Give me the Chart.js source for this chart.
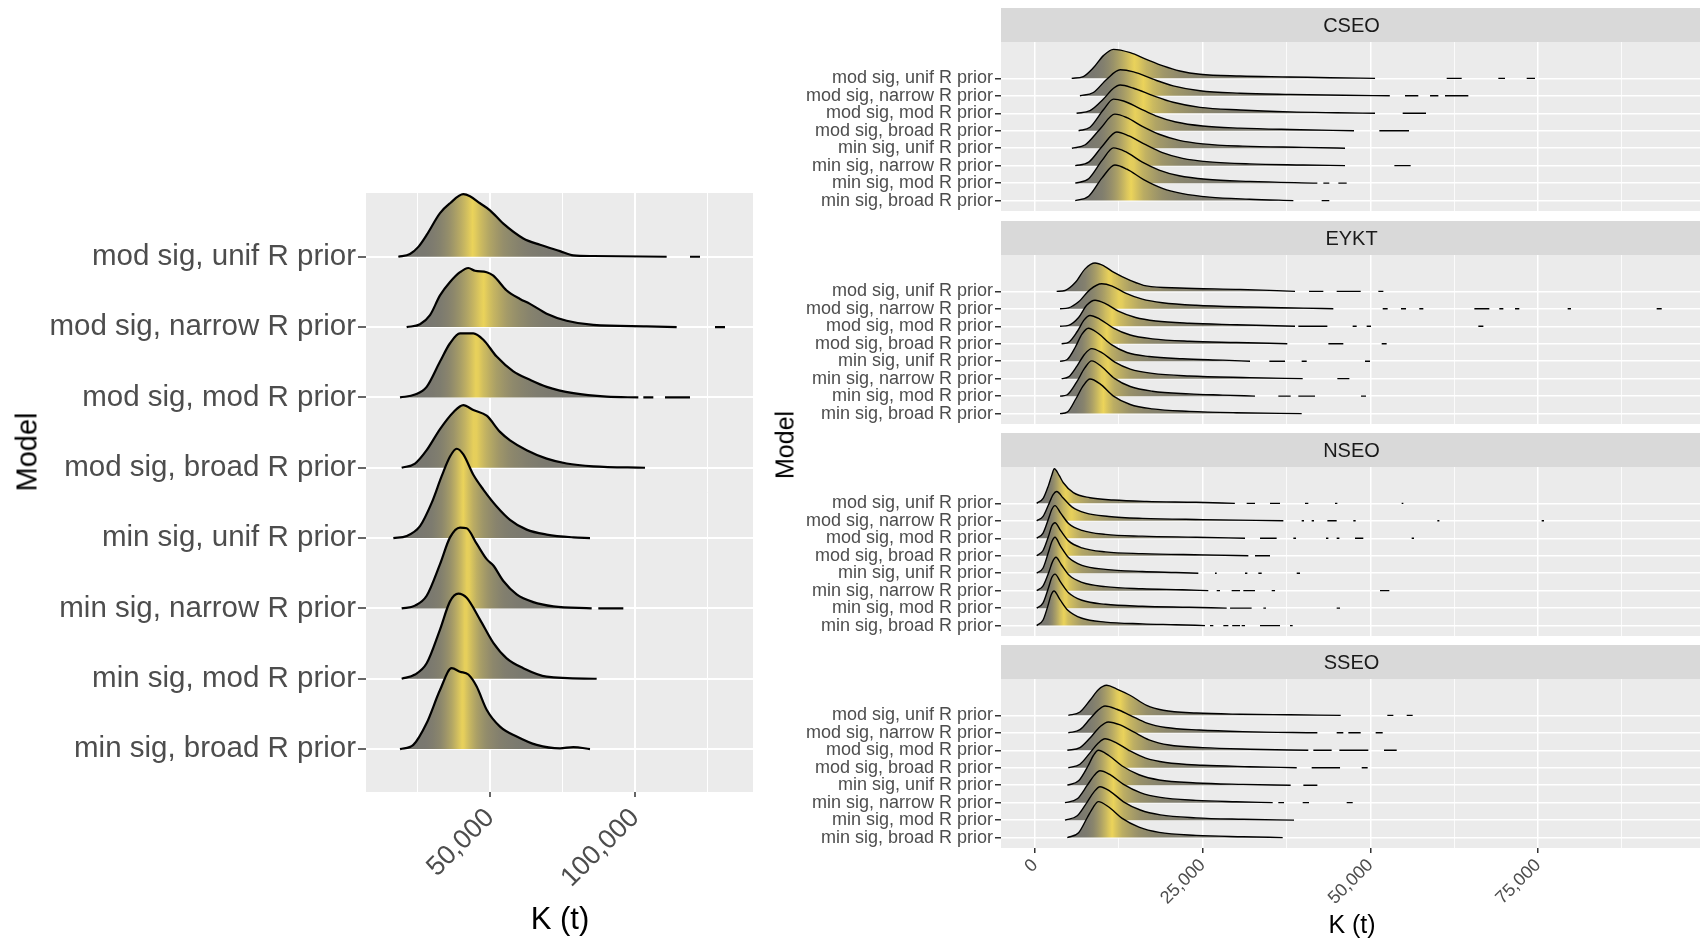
<!DOCTYPE html>
<html>
<head>
<meta charset="utf-8">
<script src="https://cdn.jsdelivr.net/npm/chart.js@4.4.0/dist/chart.umd.min.js"></script>
<style>
  html, body { margin: 0; padding: 0; background: #fff; }
  body { width: 1700px; height: 938px; position: relative; overflow: hidden; font-family: "Liberation Sans", Arial, sans-serif; }
  canvas { position: absolute; }
  .ttl { position: absolute; color: #000; white-space: nowrap; line-height: 1; transform: translate(-50%, -50%); }
  .ttl.rot { transform: translate(-50%, -50%) rotate(-90deg); }
</style>
</head>
<body>
<canvas id="allChart" width="760" height="938" style="left:0;top:0"></canvas>
<canvas id="cseoChart" width="1000" height="203" style="left:700px;top:8px"></canvas>
<canvas id="eyktChart" width="1000" height="203" style="left:700px;top:221px"></canvas>
<canvas id="nseoChart" width="1000" height="203" style="left:700px;top:433px"></canvas>
<canvas id="sseoChart" width="1000" height="293" style="left:700px;top:645px"></canvas>
<div class="ttl rot" style="left:27px;top:452px;font-size:29px">Model</div>
<div class="ttl" style="left:560px;top:918px;font-size:31px">K (t)</div>
<div class="ttl rot" style="left:785px;top:445px;font-size:25px">Model</div>
<div class="ttl" style="left:1352px;top:924px;font-size:25px">K (t)</div>
<script>
// rows, top to bottom
const models = ['mod sig, unif R prior', 'mod sig, narrow R prior', 'mod sig, mod R prior', 'mod sig, broad R prior',
  'min sig, unif R prior', 'min sig, narrow R prior', 'min sig, mod R prior', 'min sig, broad R prior'];

// density curves as [K, height in row units], plus detached tail pieces [from, to]
const allK = [
  [[18390,0],[22410,0.04],[25290,0.14],[28160,0.31],[32760,0.62],[36210,0.76],[40800,0.89],[43100,0.86],[46550,0.76],[50000,0.66],[54600,0.47],[61490,0.26],[67240,0.17],[74140,0.08],[78730,0.02],[85630,0.01],[110920,0]],
  [[21260,0],[25860,0.04],[29310,0.17],[32760,0.45],[36210,0.64],[39650,0.78],[42530,0.84],[44830,0.80],[48850,0.78],[51150,0.73],[55750,0.52],[60340,0.40],[63790,0.33],[69540,0.19],[76430,0.09],[85630,0.03],[104020,0.01],[114370,0]],
  [[18970,0],[24140,0.04],[28160,0.15],[32760,0.51],[36210,0.77],[39650,0.91],[44250,0.91],[47700,0.82],[52300,0.58],[58040,0.37],[63790,0.25],[69540,0.15],[78730,0.06],[90230,0.01],[101150,0]],
  [[19540,0],[24140,0.06],[28160,0.25],[32760,0.55],[37360,0.79],[40800,0.89],[44250,0.82],[48850,0.74],[53450,0.51],[56900,0.39],[62640,0.25],[69540,0.13],[76430,0.06],[85630,0.02],[103450,0]],
  [[16670,0],[21260,0.03],[25860,0.17],[29880,0.50],[33330,0.88],[36210,1.16],[38510,1.27],[40800,1.19],[44250,0.90],[47700,0.69],[52300,0.45],[56900,0.26],[62640,0.12],[69540,0.05],[78730,0.01],[84480,0]],
  [[19540,0],[24140,0.04],[28160,0.18],[32760,0.63],[36210,1.01],[39650,1.15],[41950,1.14],[45400,0.92],[48850,0.70],[51150,0.61],[54600,0.39],[59190,0.20],[64940,0.09],[71840,0.03],[85060,0]],
  [[19540,0],[24140,0.06],[28160,0.22],[32760,0.70],[36210,1.10],[39080,1.21],[41950,1.15],[46550,0.84],[51150,0.51],[55750,0.29],[61490,0.15],[69540,0.03],[86780,0]],
  [[18970,0],[23560,0.06],[28160,0.37],[32760,0.84],[36780,1.15],[39650,1.10],[42530,1.06],[45400,0.89],[48850,0.56],[53450,0.32],[59190,0.18],[66090,0.06],[74140,0.01],[78730,0.03],[84480,0]]
];
const allTails = [[[118960,122410]], [[127590,131030]], [[102870,106320],[110340,118960]], [], [], [[87350,95980]], [], []];

const cseoK = [
  [[5470,0],[7200,0.1],[8700,0.6],[10200,1.3],[11700,1.66],[14200,1.47],[16600,1.09],[19100,0.71],[21600,0.42],[24600,0.23],[30600,0.13],[38000,0.08],[44000,0.03],[50700,0]],
  [[6700,0],[8700,0.19],[10700,0.95],[12700,1.49],[14700,1.37],[17600,0.95],[20600,0.57],[24600,0.29],[30600,0.15],[38000,0.08],[46000,0.03],[52900,0]],
  [[6200,0],[8200,0.15],[10200,0.82],[11700,1.43],[12700,1.62],[14700,1.43],[17600,1.01],[20600,0.63],[24600,0.34],[30600,0.19],[38000,0.08],[45000,0.03],[50700,0]],
  [[6500,0],[8200,0.2],[10200,1.2],[11700,1.81],[13200,1.7],[15500,1.3],[18000,0.85],[21000,0.5],[25000,0.27],[30600,0.15],[38000,0.07],[47560,0]],
  [[5500,0],[7500,0.2],[9700,1.1],[11900,1.95],[13700,1.75],[16000,1.25],[18500,0.8],[21500,0.45],[25000,0.25],[31000,0.12],[40000,0.05],[46220,0]],
  [[6000,0],[8000,0.2],[10000,1.1],[12200,1.93],[14000,1.7],[16500,1.2],[19000,0.75],[22000,0.42],[26000,0.22],[32000,0.1],[40000,0.04],[46220,0]],
  [[6000,0],[8000,0.25],[10000,1.3],[11700,2.02],[13500,1.8],[16000,1.2],[18500,0.75],[21500,0.42],[25500,0.22],[32000,0.1],[42100,0]],
  [[6000,0],[8000,0.25],[10000,1.3],[11900,2.04],[13700,1.8],[16200,1.2],[19000,0.7],[22000,0.4],[26000,0.2],[32000,0.08],[38520,0]]
];
const cseoTails = [
  [[61380,63620],[69080,70080],[73310,74550]],
  [[55170,57150],[58900,60140],[61130,64610]],
  [[54820,58300]],
  [[51340,55760]],
  [],
  [[53580,56010]],
  [[42990,43880],[45230,46470]],
  [[42740,43880]]
];

const eyktK = [
  [[3230,0],[4500,0.05],[6000,0.5],[7500,1.3],[8950,1.62],[10300,1.45],[11700,1.1],[14200,0.63],[16600,0.31],[21600,0.19],[30600,0.11],[38770,0]],
  [[3730,0],[5000,0.05],[6500,0.4],[8200,1.1],[9940,1.43],[11500,1.3],[13500,0.9],[16000,0.55],[19000,0.35],[24000,0.2],[32000,0.1],[40000,0.04],[44480,0]],
  [[3730,0],[5000,0.05],[6500,0.5],[7700,1.2],[8950,1.49],[10500,1.3],[12500,0.85],[15000,0.5],[18000,0.3],[23000,0.17],[30000,0.09],[38770,0]],
  [[3970,0],[5000,0.08],[6300,0.7],[7300,1.35],[8200,1.62],[9700,1.4],[11700,0.9],[14200,0.5],[17500,0.28],[23000,0.14],[30000,0.07],[37620,0]],
  [[3730,0],[4800,0.1],[6000,0.8],[7000,1.55],[7950,1.89],[9400,1.6],[11400,0.95],[13700,0.5],[17000,0.27],[22000,0.14],[28000,0.06],[32060,0]],
  [[3970,0],[5000,0.1],[6300,0.75],[7400,1.4],[8450,1.72],[9900,1.5],[11900,0.95],[14200,0.55],[17500,0.3],[23000,0.15],[32000,0.06],[39910,0]],
  [[3730,0],[4800,0.08],[6200,0.8],[7400,1.6],[8450,2.02],[9900,1.7],[11900,1.0],[14200,0.55],[17500,0.28],[23000,0.13],[28000,0.06],[32800,0]],
  [[3730,0],[4800,0.08],[6100,0.85],[7200,1.6],[8200,1.98],[9700,1.7],[11700,1.0],[14200,0.52],[17500,0.27],[23000,0.13],[30000,0.05],[39760,0]]
];
const eyktTails = [
  [[40850,42990],[44980,48560],[51190,51940]],
  [[51840,52580],[54570,55320],[57300,57900],[65510,67740],[69230,69830],[71570,72210],[79420,79920],[92690,93440]],
  [[39260,43590],[47360,47960],[49450,50100],[66100,66850]],
  [[43740,45970],[51690,52430]],
  [[34940,37280],[39760,40510],[49200,49950]],
  [[45080,46870]],
  [[36280,38120],[39260,41750],[48610,49350]],
  []
];

const nseoK = [
  [[250,0],[1240,0.3],[1990,1.0],[2490,1.6],[2880,1.98],[3600,1.6],[4220,1.18],[5720,0.61],[8200,0.32],[11680,0.19],[16650,0.11],[24000,0.06],[29800,0]],
  [[250,0],[1200,0.25],[2000,0.9],[2700,1.5],[3230,1.68],[4200,1.3],[5500,0.8],[7500,0.45],[11000,0.25],[16000,0.14],[25000,0.07],[37030,0]],
  [[250,0],[1200,0.3],[2000,1.1],[2500,1.65],[2980,1.87],[3800,1.45],[5000,0.85],[7000,0.45],[10500,0.22],[16000,0.12],[24000,0.06],[31310,0]],
  [[250,0],[1200,0.3],[2000,1.1],[2500,1.7],[2980,1.89],[3800,1.45],[5000,0.85],[7000,0.45],[10500,0.22],[16000,0.12],[25000,0.05],[31810,0]],
  [[250,0],[1200,0.3],[2000,1.2],[2500,1.8],[2980,2.06],[3800,1.55],[5000,0.9],[7000,0.45],[10500,0.22],[16000,0.1],[21000,0.04],[24350,0]],
  [[250,0],[1200,0.28],[2100,1.1],[2600,1.65],[3130,1.91],[3900,1.5],[5100,0.88],[7000,0.47],[10500,0.23],[16000,0.11],[22000,0.05],[25840,0]],
  [[250,0],[1200,0.3],[2000,1.15],[2500,1.75],[2980,1.95],[3800,1.5],[5000,0.88],[7000,0.45],[10500,0.22],[16000,0.11],[23000,0.05],[28580,0]],
  [[250,0],[1200,0.32],[1900,1.1],[2400,1.75],[2830,1.98],[3700,1.5],[4900,0.88],[7000,0.42],[10500,0.2],[16000,0.1],[21000,0.05],[25350,0]]
];
const nseoTails = [
  [[31560,32800],[35040,36530],[40260,40750],[44730,45080],[54670,54920]],
  [[39760,40110],[41250,41600],[43590,44980],[47460,47810],[59990,60290],[75540,75890]],
  [[33550,36030],[38520,38920],[43390,43740],[44980,45380],[47710,48950],[56160,56510]],
  [[32800,35040]],
  [[26840,27090],[31310,31660],[33300,33800],[39020,39510]],
  [[27090,27580],[29320,30570],[31060,32800],[35290,35790],[51440,52830]],
  [[29080,32300],[34050,34440],[44980,45480]],
  [[26090,26590],[28080,28830],[29400,30570],[30810,31310],[33550,36530],[38020,38420]]
];

const sseoK = [
  [[4970,0],[6700,0.19],[8200,0.86],[9440,1.47],[10690,1.72],[12200,1.5],[14160,1.15],[16650,0.57],[19130,0.29],[24100,0.13],[30570,0.06],[38000,0.03],[45580,0]],
  [[4970,0],[6700,0.18],[8200,0.8],[9400,1.3],[10440,1.53],[12200,1.35],[14200,1.0],[16700,0.55],[19500,0.3],[24500,0.16],[31000,0.07],[42100,0]],
  [[4820,0],[6700,0.15],[8200,0.7],[9700,1.35],[10930,1.62],[12700,1.45],[14700,1.05],[17000,0.6],[20000,0.3],[25000,0.15],[32000,0.06],[40750,0]],
  [[4970,0],[6700,0.2],[8200,0.85],[9400,1.4],[10440,1.66],[12000,1.45],[14000,1.0],[16500,0.55],[19500,0.3],[25000,0.14],[32000,0.06],[39020,0]],
  [[4820,0],[6500,0.25],[7900,1.1],[8700,1.7],[9440,2.0],[11000,1.7],[13000,1.1],[15500,0.6],[18500,0.3],[24000,0.13],[31000,0.05],[38120,0]],
  [[4470,0],[6300,0.22],[7800,1.0],[8800,1.55],[9690,1.83],[11200,1.6],[13200,1.05],[15700,0.58],[18700,0.3],[24000,0.13],[30000,0.05],[35440,0]],
  [[4470,0],[6300,0.25],[7800,1.05],[8800,1.62],[9690,1.91],[11200,1.65],[13200,1.05],[15700,0.58],[18700,0.3],[24000,0.13],[31000,0.05],[38620,0]],
  [[4820,0],[6500,0.28],[7800,1.15],[8700,1.75],[9440,2.06],[11000,1.75],[13000,1.1],[15500,0.6],[18500,0.3],[24000,0.13],[31000,0.05],[36930,0]]
];
const sseoTails = [
  [[52530,53430],[55420,56310]],
  [[44980,45970],[46720,48560],[50790,51840]],
  [[41500,44230],[45380,49700],[52040,53930]],
  [[41250,45480],[48710,49600]],
  [[40010,42100]],
  [[36280,37130],[39910,40850],[46470,47370]],
  [],
  []
];

const allTicks = [25000, 50000, 75000, 100000, 125000];
const allLabeled = [50000, 100000];
const facetTicks = [0, 12500, 25000, 37500, 50000, 62500, 75000, 87500];
const facetLabeled = [0, 25000, 50000, 75000];

Chart.defaults.font.family = '"Liberation Sans", Arial, sans-serif';

const GRAY = [120, 119, 112], YELLOW = [236, 212, 90];
function shade(q) {
  let t = 1 - Math.abs(2 * q - 1);
  t = Math.pow(t, 1.6);
  const c = GRAY.map((g, i) => Math.round(g + t * (YELLOW[i] - g)));
  return `rgb(${c[0]},${c[1]},${c[2]})`;
}

// cumulative share of the area under a curve, point by point
function cumShare(pts) {
  const c = [0];
  for (let i = 1; i < pts.length; i++) {
    c.push(c[i - 1] + (pts[i][0] - pts[i - 1][0]) * (pts[i][1] + pts[i - 1][1]) / 2);
  }
  const tot = c[c.length - 1];
  return c.map(v => v / tot);
}

function ridgeFill(pts) {
  const F = cumShare(pts);
  return function (ctx) {
    const chart = ctx.chart;
    const xs = chart.scales.x;
    if (!chart.chartArea || !xs) return 'rgba(0,0,0,0)';
    const x0 = xs.getPixelForValue(pts[0][0]);
    const x1 = xs.getPixelForValue(pts[pts.length - 1][0]);
    const g = chart.ctx.createLinearGradient(x0, 0, x1, 0);
    for (let i = 0; i < pts.length - 1; i++) {
      for (let k = 0; k < 4; k++) {
        const f = k / 4;
        const v = pts[i][0] + f * (pts[i + 1][0] - pts[i][0]);
        const q = F[i] + f * (F[i + 1] - F[i]);
        g.addColorStop(Math.min(1, Math.max(0, (xs.getPixelForValue(v) - x0) / (x1 - x0))), shade(q));
      }
    }
    g.addColorStop(1, shade(1));
    return g;
  };
}

const panelPlugin = {
  id: 'panel',
  beforeDraw(chart, args, opts) {
    const { ctx, chartArea: a } = chart;
    ctx.save();
    ctx.fillStyle = '#ebebeb';
    ctx.fillRect(a.left, a.top, a.right - a.left, a.bottom - a.top);
    if (opts.strip) {
      ctx.fillStyle = '#d9d9d9';
      ctx.fillRect(a.left, a.top - opts.stripH, a.right - a.left, opts.stripH);
      ctx.fillStyle = '#1a1a1a';
      ctx.font = '20px "Liberation Sans", Arial, sans-serif';
      ctx.textAlign = 'center';
      ctx.textBaseline = 'middle';
      ctx.fillText(opts.strip, (a.left + a.right) / 2 + 1, a.top - opts.stripH / 2 + 1);
    }
    ctx.restore();
  }
};

function ridgeChart(id, curves, tails, c) {
  const datasets = [];
  // bottom row first, so it is drawn on top of the rows above it
  for (let r = curves.length - 1; r >= 0; r--) {
    const base = curves.length - r;
    const pts = curves[r];
    const data = pts.map(p => ({ x: p[0], y: base + p[1] }));
    let last = pts[pts.length - 1][0];
    tails[r].forEach(t => {
      data.push({ x: (last + t[0]) / 2, y: null });
      data.push({ x: t[0], y: base }, { x: t[1], y: base });
      last = t[1];
    });
    datasets.push({
      label: models[r],
      data,
      fill: { value: base },
      backgroundColor: ridgeFill(pts),
      borderColor: '#000',
      borderWidth: c.lw,
      spanGaps: false,
      cubicInterpolationMode: 'monotone',
      pointRadius: 0
    });
  }
  const isMajor = v => c.labeled.includes(v);
  return new Chart(document.getElementById(id), {
    type: 'line',
    data: { datasets },
    options: {
      responsive: false,
      animation: false,
      events: [],
      layout: { padding: { top: c.padTop, right: c.padRight, left: 0, bottom: 0 } },
      scales: {
        x: {
          type: 'linear', min: c.xMin, max: c.xMax,
          afterBuildTicks: s => { s.ticks = c.ticks.map(v => ({ value: v })); },
          afterFit: s => { s.height = c.xHeight; s.paddingLeft = 0; s.paddingRight = 0; },
          ticks: {
            display: c.showX, autoSkip: false, minRotation: 45, maxRotation: 45,
            padding: c.xPad, color: '#4d4d4d', font: { size: c.xFont, lineHeight: 1 },
            callback: v => isMajor(v) ? v.toLocaleString('en-US') : ''
          },
          grid: {
            color: '#ffffff',
            lineWidth: ctx => isMajor(ctx.tick.value) ? c.gridMajor : c.gridMinor,
            drawTicks: c.showX, tickLength: 5, tickWidth: 1.5,
            tickColor: ctx => isMajor(ctx.tick.value) ? '#333333' : 'rgba(0,0,0,0)'
          },
          border: { display: false }
        },
        y: {
          type: 'linear', min: c.yMin, max: c.yMax,
          afterBuildTicks: s => { s.ticks = [1, 2, 3, 4, 5, 6, 7, 8].map(v => ({ value: v })); },
          afterFit: s => { s.width = c.yWidth; s.paddingTop = 0; s.paddingBottom = 0; },
          ticks: {
            autoSkip: false, padding: 2, color: '#4d4d4d', font: { size: c.yFont, lineHeight: 1 },
            callback: v => models[8 - v]
          },
          grid: { color: '#ffffff', lineWidth: c.gridMajor, tickLength: c.yTick, tickWidth: 1.5, tickColor: '#333333' },
          border: { display: false }
        }
      },
      plugins: {
        legend: { display: false },
        tooltip: { enabled: false },
        panel: { strip: c.strip, stripH: c.padTop }
      }
    },
    plugins: [panelPlugin]
  });
}

ridgeChart('allChart', allK, allTails, {
  xMin: 7240, xMax: 140690, yMin: 0.39, yMax: 8.906, ticks: allTicks, labeled: allLabeled,
  showX: true, xHeight: 146, yWidth: 366, padTop: 193, padRight: 7, xFont: 27, yFont: 29.5, xPad: 7,
  lw: 2.2, gridMajor: 2, gridMinor: 1, yTick: 8, strip: null
});

const facetCfg = {
  xMin: -5070, xMax: 99150, yMin: 0.405, yMax: 10.08, ticks: facetTicks, labeled: facetLabeled,
  showX: false, xHeight: 0, yWidth: 301, padTop: 34, padRight: 0, xFont: 18, yFont: 18, xPad: 3,
  lw: 1.4, gridMajor: 1.5, gridMinor: 0.8, yTick: 6
};
ridgeChart('cseoChart', cseoK, cseoTails, Object.assign({}, facetCfg, { strip: 'CSEO' }));
ridgeChart('eyktChart', eyktK, eyktTails, Object.assign({}, facetCfg, { strip: 'EYKT' }));
ridgeChart('nseoChart', nseoK, nseoTails, Object.assign({}, facetCfg, { strip: 'NSEO' }));
ridgeChart('sseoChart', sseoK, sseoTails, Object.assign({}, facetCfg, { strip: 'SSEO', showX: true, xHeight: 90 }));
</script>
</body>
</html>
